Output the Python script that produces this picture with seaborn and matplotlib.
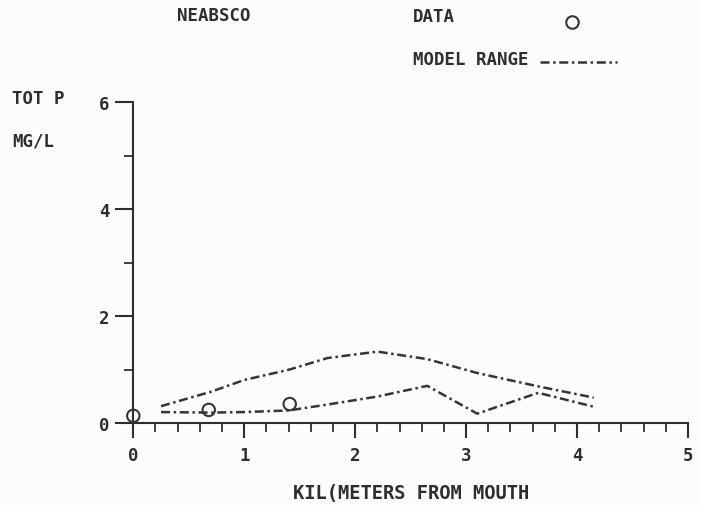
import matplotlib
matplotlib.use("Agg")
import matplotlib.pyplot as plt
import seaborn as sns
import pandas as pd
from matplotlib.ticker import MultipleLocator
from matplotlib.lines import Line2D

# ---- data ----
model_km = [0.25, 0.7, 1.0, 1.4, 1.75, 2.2, 2.65, 3.1, 3.65, 4.15]
model_max = [0.32, 0.59, 0.81, 1.00, 1.22, 1.34, 1.20, 0.94, 0.69, 0.48]
model_min = [0.21, 0.20, 0.21, 0.24, 0.35, 0.50, 0.70, 0.18, 0.57, 0.31]
data_km = [0.0, 0.68, 1.41]
data_tp = [0.14, 0.25, 0.36]
x_ticks = [0, 1, 2, 3, 4, 5]
y_ticks = [0, 2, 4, 6]

ink = "#2e2e2e"
line_ink = "#353535"
bg = "#fcfcfc"
fs = 12.5

sns.set_style("ticks")
plt.rcParams["font.family"] = ["DejaVu Sans Mono", "DejaVu Sans"]
plt.rcParams["font.weight"] = "bold"
plt.rcParams["axes.labelweight"] = "bold"
plt.rcParams["lines.scale_dashes"] = False

fig = plt.figure(figsize=(7.02, 5.06), dpi=100, facecolor=bg)
ax = fig.add_axes([133.3 / 702, 1 - 424.3 / 506, (688 - 133.3) / 702, 321 / 506])
ax.set_facecolor(bg)

dash = (0, (6.5, 2.6, 1.8, 2.6))
df_model = pd.DataFrame({"km": model_km, "max": model_max, "min": model_min})
for col in ["max", "min"]:
    sns.lineplot(data=df_model, x="km", y=col, ax=ax, color=line_ink,
                 linewidth=1.8, linestyle=dash, clip_on=False)

df_data = pd.DataFrame({"km": data_km, "tp": data_tp})
sns.scatterplot(data=df_data, x="km", y="tp", ax=ax, marker="o", s=80,
                facecolors="none", edgecolor=line_ink, linewidth=1.5,
                clip_on=False, zorder=5)

ax.set_xlim(0, 5)
ax.set_ylim(0, 6)
ax.set_xticks(x_ticks)
ax.set_yticks(y_ticks)
ax.set_xticklabels([str(v) for v in x_ticks])
ax.set_yticklabels([str(v) for v in y_ticks])
ax.xaxis.set_minor_locator(MultipleLocator(0.2))
ax.yaxis.set_minor_locator(MultipleLocator(1))

for s in ["top", "right"]:
    ax.spines[s].set_visible(False)
for s in ["left", "bottom"]:
    ax.spines[s].set_color(ink)
    ax.spines[s].set_linewidth(1.5)

ax.tick_params(axis="x", which="major", direction="out", length=10.5, width=1.5,
               color=ink, labelcolor=ink, labelsize=fs, pad=6)
ax.tick_params(axis="x", which="minor", direction="out", length=6.5, width=1.3, color=ink)
ax.tick_params(axis="y", which="major", direction="out", length=13, width=1.5,
               color=ink, labelcolor=ink, labelsize=fs, pad=4)
ax.tick_params(axis="y", which="minor", direction="out", length=6.5, width=1.3, color=ink)

ax.set_ylabel("")
ax.set_xlabel("KIL(METERS FROM MOUTH", fontsize=13.5, color=ink, va="center",
              fontweight="bold")
ax.xaxis.set_label_coords(0.5, -0.217)

def fx(px):
    return px / 702

def fy(py):
    return 1 - py / 506

fig.text(fx(214), fy(16), "NEABSCO", ha="center", va="center", fontsize=fs, color=ink)
fig.text(fx(413), fy(17), "DATA", ha="left", va="center", fontsize=fs, color=ink)
fig.text(fx(413), fy(60), "MODEL RANGE", ha="left", va="center", fontsize=fs, color=ink)
fig.text(fx(12), fy(99), "TOT P", ha="left", va="center", fontsize=fs, color=ink)
fig.text(fx(12), fy(142), "MG/L", ha="left", va="center", fontsize=fs, color=ink)

fig.add_artist(Line2D([fx(572)], [fy(23)], marker="o", markersize=9,
                      markerfacecolor="none", markeredgecolor=line_ink,
                      markeredgewidth=1.5, linestyle="none"))
fig.add_artist(Line2D([fx(540), fx(617)], [fy(63), fy(63)], color=line_ink,
                      linewidth=1.8, linestyle=dash))

fig.savefig("out.png", dpi=100, facecolor=bg)
